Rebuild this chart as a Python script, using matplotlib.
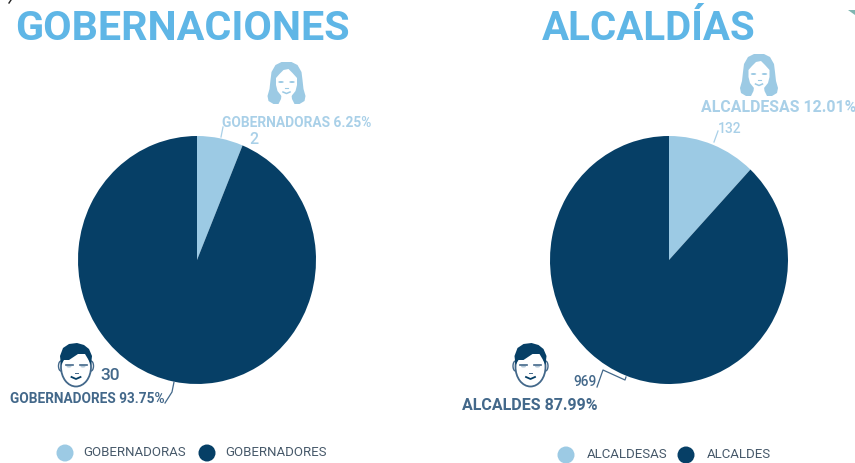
import matplotlib
matplotlib.use("Agg")
import matplotlib.pyplot as plt
from matplotlib.patches import Ellipse, Polygon

LIGHT = "#9ccae4"
DARK = "#063f66"
LABEL_DARK = "#43688a"
LABEL_LIGHT = "#a9d0e8"
TITLE_COLOR = "#5fb6e6"
W, H = 855, 463

titles = ["GOBERNACIONES", "ALCALDÍAS"]
gob_labels = ["GOBERNADORAS", "GOBERNADORES"]
gob_values = [2, 30]
gob_pct = [6.25, 93.75]
alc_labels = ["ALCALDESAS", "ALCALDES"]
alc_values = [132, 969]
alc_pct = [12.01, 87.99]

plt.rcParams["font.family"] = ["Roboto", "DejaVu Sans"]


def draw_pie(fig, cx, values):
    # pie in the source is slightly stretched vertically
    rx, ry = 119, 124
    ax = fig.add_axes([(cx - rx) / W, 1 - (260 + ry) / H, 2 * rx / W, 2 * ry / H])
    ax.pie(values, colors=[LIGHT, DARK], startangle=90, counterclock=False, radius=1)
    ax.set_xlim(-1, 1)
    ax.set_ylim(-1, 1)
    ax.set_aspect("auto")
    ax.axis("off")


def woman_face(ax, cx, cy):
    # hair, bell shaped
    hair = [(-5, -21), (5, -21), (11, -18), (15, -11), (16, -3), (17, 6), (19, 13), (18, 18), (13, 21), (6, 21),
            (-6, 21), (-13, 21), (-18, 18), (-19, 13), (-17, 6), (-16, -3), (-15, -11), (-11, -18)]
    ax.add_patch(Polygon([(cx + x, cy + y) for x, y in hair], fc=LIGHT, ec="none"))
    face = [(-3, -13), (2, -14), (6, -10), (10.5, -5), (10.5, 2), (9, 8), (5, 13), (0, 15), (-5, 13), (-9, 8),
            (-10.5, 2), (-10.5, -5), (-7, -9)]
    ax.add_patch(Polygon([(cx + x, cy + y) for x, y in face], fc="white", ec="none"))
    neck = [(-5, 12), (5, 12), (5.5, 16), (8, 21), (-8, 21), (-5.5, 16)]
    ax.add_patch(Polygon([(cx + x, cy + y) for x, y in neck], fc="white", ec="none"))
    for dx in (-5.5, 5.5):
        ax.add_patch(Ellipse((cx + dx, cy - 1), 5.5, 2, fc=LIGHT, ec="none"))
    ax.plot([cx - 1.5, cx + 1.5], [cy + 5, cy + 5], color=LIGHT, lw=0.8)
    ax.plot([cx - 3.5, cx, cx + 3.5], [cy + 9, cy + 10.5, cy + 9], color=LIGHT, lw=1.1)


def man_face(ax, cx, cy):
    for dx in (-15, 15):
        ax.add_patch(Ellipse((cx + dx, cy + 1), 5, 10, fc="white", ec=LABEL_DARK, lw=1))
    ax.add_patch(Ellipse((cx, cy + 2), 30, 39, fc="white", ec=LABEL_DARK, lw=1.3))
    hair = [(-15, 0), (-16, -9), (-13, -17), (-7, -21), (1, -22), (8, -20), (13, -16), (16, -9), (15, 0), (12, -6),
            (9, -11), (2, -11), (-7, -5), (-12, -5)]
    ax.add_patch(Polygon([(cx + x, cy + y) for x, y in hair], fc=DARK, ec="none"))
    for dx in (-7, 7):
        ax.plot([cx + dx - 3.5, cx + dx + 3.5], [cy, cy], color=LABEL_DARK, lw=1.2)
        ax.add_patch(Ellipse((cx + dx, cy + 1.5), 5, 2.2, fc="#b9cbd9", ec="none"))
    ax.plot([cx - 1.5, cx + 1.5], [cy + 8, cy + 8], color=LABEL_DARK, lw=0.7)
    ax.plot([cx - 4.5, cx, cx + 4.5], [cy + 12, cy + 14, cy + 12], color=DARK, lw=1.3)


fig = plt.figure(figsize=(W / 100, H / 100), dpi=100)
draw_pie(fig, 197, gob_values)
draw_pie(fig, 669, alc_values)

ov = fig.add_axes([0, 0, 1, 1])
ov.set_xlim(0, W)
ov.set_ylim(H, 0)
ov.axis("off")
ov.patch.set_alpha(0)

ov.text(15, 29, titles[0], fontsize=29.7, fontweight="bold", color=TITLE_COLOR, va="center")
ov.text(542, 29, titles[1], fontsize=29, fontweight="bold", color=TITLE_COLOR, va="center")

ov.text(222, 123, f"{gob_labels[0]} {gob_pct[0]}%", fontsize=9.9, fontweight="bold", color=LABEL_LIGHT, va="center")
ov.text(249, 139, str(gob_values[0]), fontsize=11.5, fontweight="medium", color=LABEL_LIGHT, va="center")
ov.plot([221, 223], [137, 127], color=LABEL_LIGHT, lw=0.9)

ov.text(10, 399, f"{gob_labels[1]} {gob_pct[1]}%", fontsize=9.85, fontweight="bold", color=LABEL_DARK, va="center")
ov.text(100, 376, str(gob_values[1]), fontsize=12.5, fontweight="medium", color=LABEL_DARK, va="center")
ov.plot([165, 172, 174], [403, 392, 382], color=LABEL_DARK, lw=0.9)

ov.text(701, 108, f"{alc_labels[0]} {alc_pct[0]}%", fontsize=11.4, fontweight="bold", color=LABEL_LIGHT, va="center")
ov.text(718, 129, str(alc_values[0]), fontsize=10, fontweight="medium", color=LABEL_LIGHT, va="center")
ov.plot([714, 718], [142, 131], color=LABEL_LIGHT, lw=0.9)

ov.text(462, 406, f"{alc_labels[1]} {alc_pct[1]}%", fontsize=11.5, fontweight="bold", color=LABEL_DARK, va="center")
ov.text(573, 382, str(alc_values[1]), fontsize=9.8, fontweight="medium", color=LABEL_DARK, va="center")
ov.plot([597, 603, 625, 626], [387, 370, 380, 377], color=LABEL_DARK, lw=0.9)

woman_face(ov, 286.5, 83)
woman_face(ov, 759, 75)
man_face(ov, 76, 365)
man_face(ov, 530.5, 365)

for x0, x1, y, off, labels in [(65, 207, 453, 18.5, gob_labels), (566, 686, 455, 20.5, alc_labels)]:
    for dx, color, lab in zip([x0, x1], [LIGHT, DARK], labels):
        ov.add_patch(Ellipse((dx, y), 17, 17, fc=color, ec="none"))
        ov.text(dx + off, y, lab, fontsize=9.55, color="#47596a", va="center")

# crop leftovers at the edges of the source screenshot
ov.plot([11, 9], [0, 3], color="#222222", lw=1)
ov.add_patch(Polygon([(848, 10), (855, 10), (855, 15)], fc="#7fb5b0", ec="none"))

fig.savefig("out.png", dpi=100)
